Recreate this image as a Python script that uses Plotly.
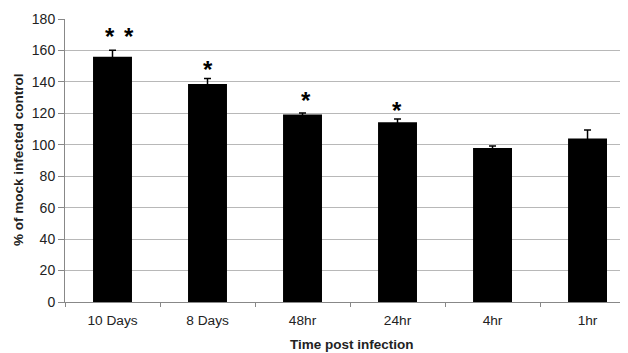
import plotly.graph_objects as go

categories = ["10 Days", "8 Days", "48hr", "24hr", "4hr", "1hr"]
values = [156, 138.7, 119.2, 114.3, 98, 104]
errors = [4.2, 3.4, 1.0, 2.1, 1.2, 5.4]
# significance marks: (category, y value, horizontal pixel offset)
star_cats = ["10 Days", "10 Days", "8 Days", "48hr", "24hr"]
star_y = [171, 171, 150, 130, 124]
star_dx = [-2.5, 16.5, 0, 3, -1]
y_ticks = [0, 20, 40, 60, 80, 100, 120, 140, 160, 180]

fig = go.Figure()
fig.add_trace(go.Bar(
    x=categories, y=values,
    marker=dict(color="black", line=dict(width=0)),
    width=0.41,
    error_y=dict(type="data", array=errors, visible=True, color="black", thickness=1.5, width=3.5),
))

for c, yy, xs in zip(star_cats, star_y, star_dx):
    fig.add_annotation(x=c, y=yy, text="<b>*</b>", showarrow=False,
                       font=dict(family="Liberation Sans, Arial", size=24, color="black"),
                       yanchor="middle", yshift=-3, xshift=xs)

# page body has an 8px margin, so offsets compensate for it
fig.update_layout(
    width=628, height=353,
    margin=dict(l=57, r=8, t=11, b=59),
    paper_bgcolor="white", plot_bgcolor="white",
    showlegend=False,
    font=dict(family="Liberation Sans, Arial", color="#222", size=12),
    xaxis=dict(
        range=[-0.5, 5.426], showline=True, linecolor="#888", linewidth=1,
        ticks="outside", tickson="boundaries", ticklen=4, tickcolor="#888",
        tickfont=dict(size=13.7, color="#222"), ticklabelstandoff=6,
        showgrid=False, automargin=False,
    ),
    yaxis=dict(
        range=[0, 180], tickvals=y_ticks, showline=True, linecolor="#888", linewidth=1,
        ticks="outside", ticklen=6, tickcolor="#888",
        tickfont=dict(size=14, color="#222"),
        showgrid=True, gridcolor="#b8b8b8", gridwidth=1, zeroline=False,
        automargin=False,
    ),
)
fig.add_annotation(xref="paper", yref="paper", x=(352-65)/563, y=-(344-302)/283, text="<b>Time post infection</b>",
                   showarrow=False, font=dict(size=13.5, color="#222"), yanchor="middle")
fig.add_annotation(xref="paper", yref="paper", x=-(65-18)/563, y=(302-160)/283, text="<b>% of mock infected control</b>",
                   showarrow=False, font=dict(size=13.5, color="#222"), textangle=-90,
                   xanchor="center", yanchor="middle")

fig.write_html("out.html")
